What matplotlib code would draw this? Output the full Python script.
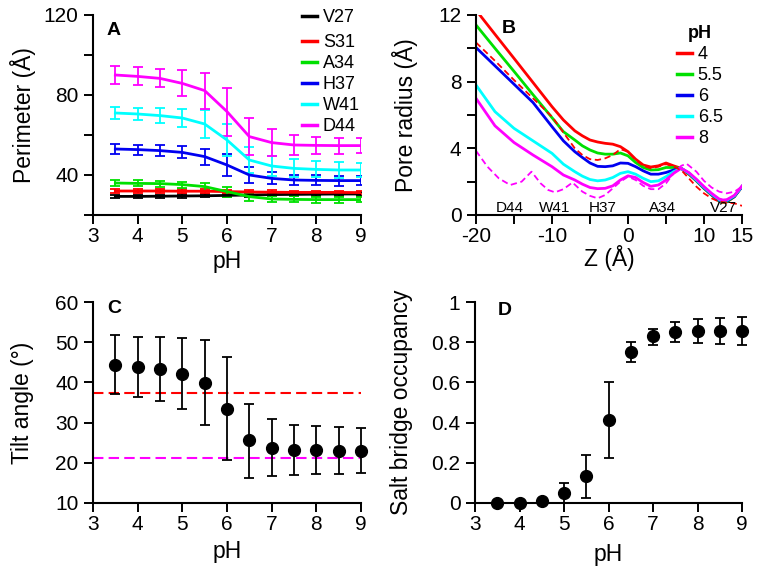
import matplotlib
matplotlib.use('Agg')
import matplotlib.pyplot as plt
from matplotlib.lines import Line2D

plt.rcParams['font.family'] = ['Liberation Sans', 'DejaVu Sans']

# ---------------- Panel A data ----------------
ph = [3.5, 4, 4.5, 5, 5.5, 6, 6.5, 7, 7.5, 8, 8.5, 9]
perim_V27 = [29.3, 29.3, 29.4, 29.5, 29.6, 29.8, 30.0, 30.2, 30.3, 30.4, 30.5, 30.5]
perim_V27_err = [0.8, 0.8, 0.8, 0.8, 0.8, 0.8, 0.8, 0.8, 0.8, 0.8, 0.8, 0.8]
perim_S31 = [32.0, 32.0, 32.0, 31.9, 31.9, 31.7, 31.5, 31.4, 31.3, 31.3, 31.3, 31.2]
perim_S31_err = [0.9, 0.9, 0.9, 0.9, 0.9, 0.9, 0.9, 0.9, 0.9, 0.9, 0.9, 0.9]
perim_A34 = [36.0, 35.8, 35.7, 35.2, 34.2, 31.7, 29.2, 28.0, 27.8, 27.7, 27.7, 27.7]
perim_A34_err = [1.5, 1.5, 1.5, 1.5, 2.0, 2.5, 2.0, 1.7, 1.5, 1.5, 1.5, 1.3]
perim_H37 = [53.0, 52.7, 52.2, 51.3, 49.2, 45.0, 40.0, 38.3, 37.5, 37.3, 37.2, 37.2]
perim_H37_err = [2.5, 2.5, 2.7, 3.0, 4.0, 5.5, 4.0, 3.0, 2.7, 2.5, 2.5, 2.3]
perim_W41 = [71.0, 70.5, 69.7, 68.5, 65.5, 57.5, 47.5, 44.5, 43.3, 42.8, 42.5, 42.5]
perim_W41_err = [3.2, 3.0, 3.8, 4.5, 7.0, 8.0, 6.5, 5.0, 4.5, 4.0, 4.0, 3.5]
perim_D44 = [90.0, 89.3, 88.3, 85.8, 82.2, 71.7, 59.2, 56.2, 55.0, 54.8, 54.7, 54.7]
perim_D44_err = [4.5, 4.5, 4.5, 6.5, 9.0, 12.0, 9.3, 6.7, 5.0, 4.3, 4.0, 3.6]
residues = ['V27', 'S31', 'A34', 'H37', 'W41', 'D44']

# ---------------- Panel B data ----------------
z_red = [-19.5, -17.5, -15, -12.5, -10, -8.5, -7, -6, -5, -4, -3, -2, -1, 0, 1, 2, 3, 4, 5, 6, 7, 8, 9, 10, 11, 12, 12.5, 13, 14, 15]
r_ph4 = [12.0, 10.84, 9.4, 7.95, 6.5, 5.7, 5.05, 4.75, 4.5, 4.38, 4.3, 4.25, 4.1, 3.8, 3.35, 3.0, 2.88, 2.95, 3.12, 2.95, 2.8, 2.45, 2.05, 1.6, 1.2, 0.82, 0.75, 0.78, 1.1, 1.7]
z_sol = [-20, -17.5, -15, -12.5, -10, -8.5, -7, -6, -5, -4, -3, -2, -1, 0, 1, 2, 3, 4, 5, 6, 7, 8, 9, 10, 11, 12, 12.5, 13, 14, 15]
r_ph55 = [11.4, 10.0, 8.62, 7.22, 5.84, 5.0, 4.5, 4.15, 3.9, 3.72, 3.65, 3.65, 3.72, 3.55, 3.15, 2.85, 2.7, 2.72, 2.85, 2.85, 2.8, 2.47, 2.05, 1.6, 1.2, 0.84, 0.78, 0.8, 1.1, 1.7]
r_ph6 = [10.05, 8.95, 7.85, 6.75, 5.3, 4.45, 3.8, 3.45, 3.12, 2.92, 2.9, 2.95, 3.12, 3.1, 2.9, 2.65, 2.45, 2.45, 2.55, 2.7, 2.8, 2.5, 2.08, 1.63, 1.23, 0.88, 0.82, 0.84, 1.12, 1.7]
r_ph65 = [7.8, 6.2, 5.2, 4.45, 3.7, 3.05, 2.6, 2.33, 2.13, 2.05, 2.1, 2.25, 2.5, 2.6, 2.45, 2.2, 2.0, 2.05, 2.3, 2.6, 2.8, 2.52, 2.1, 1.66, 1.26, 0.92, 0.86, 0.88, 1.15, 1.72]
r_ph8 = [7.0, 5.35, 4.35, 3.6, 2.9, 2.4, 2.1, 1.85, 1.65, 1.58, 1.6, 1.75, 2.1, 2.35, 2.25, 1.95, 1.72, 1.8, 2.1, 2.5, 2.8, 2.55, 2.15, 1.7, 1.3, 0.96, 0.9, 0.92, 1.18, 1.74]
z_dred = [-20, -17.5, -15, -12.5, -10, -8.5, -7, -6, -5, -4, -3, -2, -1, 0, 1, 2, 3, 4, 5, 6, 7, 8, 9, 10, 11, 12, 13, 14, 15]
r_dred = [10.35, 9.25, 8.1, 7.0, 5.9, 4.95, 4.0, 3.6, 3.35, 3.3, 3.4, 3.6, 3.95, 3.8, 3.3, 2.95, 2.8, 2.9, 3.05, 2.9, 2.7, 2.2, 1.7, 1.3, 1.0, 0.8, 0.75, 0.7, 0.55]
z_dmag = [-20, -18.5, -17, -15.5, -14, -12.7, -11.5, -10.5, -9.6, -8.5, -7.3, -6, -5, -4, -3, -2, -1, 0, 1, 2, 3, 4, 5, 6, 7, 7.7, 9, 10, 11, 12, 13, 14, 15]
r_dmag = [3.85, 2.9, 2.2, 1.8, 2.0, 2.6, 1.9, 1.5, 1.36, 1.55, 1.95, 1.4, 1.15, 1.0, 1.2, 1.6, 2.0, 2.3, 2.1, 1.75, 1.55, 1.55, 1.9, 2.5, 2.95, 3.08, 2.6, 2.05, 1.65, 1.4, 1.3, 1.4, 1.7]
pore_labels = ['D44', 'W41', 'H37', 'A34', 'V27']
pore_label_z = [-15.5, -9.6, -3.3, 4.6, 12.6]
ph_profiles = ['4', '5.5', '6', '6.5', '8']

# ---------------- Panel C data ----------------
tilt = [44.4, 43.8, 43.3, 42.1, 39.8, 33.4, 25.6, 23.8, 23.1, 23.1, 22.9, 22.9]
tilt_hi = [51.7, 51.3, 51.3, 51.1, 50.5, 46.2, 34.7, 31.0, 29.5, 29.1, 28.9, 28.7]
tilt_lo = [37.0, 36.4, 35.4, 33.4, 29.3, 20.6, 16.3, 16.8, 17.0, 17.1, 17.2, 17.5]
tilt_ref_red = 37.4
tilt_ref_magenta = 21.2

# ---------------- Panel D data ----------------
occ = [0.0, 0.0, 0.012, 0.05, 0.133, 0.413, 0.749, 0.829, 0.85, 0.854, 0.854, 0.854]
occ_hi = [0.0, 0.0, 0.012, 0.10, 0.24, 0.604, 0.80, 0.867, 0.902, 0.915, 0.92, 0.923]
occ_lo = [0.0, 0.0, 0.012, 0.0, 0.027, 0.226, 0.70, 0.785, 0.80, 0.795, 0.79, 0.785]

RED = '#ff0000'
GREEN = '#00e000'
BLUE = '#0000f0'
CYAN = '#00ffff'
MAG = '#ff00ff'
colorsA = ['black', RED, GREEN, BLUE, CYAN, MAG]

W, H = 761, 572
fig = plt.figure(figsize=(W / 100, H / 100), dpi=100)

def axes_px(x0, x1, ytop, ybot):
    return fig.add_axes([x0 / W, 1 - ybot / H, (x1 - x0) / W, (ybot - ytop) / H])

TICK_FS = 15
LAB_FS = 16.5
LEG_FS = 13

def style(ax):
    for s in ['top', 'right']:
        ax.spines[s].set_visible(False)
    for s in ['left', 'bottom']:
        ax.spines[s].set_linewidth(1.5)
    ax.tick_params(direction='out', length=6.5, width=1.4, labelsize=TICK_FS)
    ax.tick_params(axis='x', pad=2.5)
    ax.tick_params(axis='y', pad=4)

def place_labels(ax, x0, x1, ytop, ybot, ylab_right, xlab_top):
    ax.yaxis.set_label_coords((ylab_right - x0) / (x1 - x0), 0.5)
    ax.xaxis.set_label_coords(0.5, (ybot - xlab_top) / (ybot - ytop))

def letter(s, x, y):
    fig.text(x / W, 1 - y / H, s, fontsize=14, fontweight='bold', ha='left', va='baseline')

# ---- A ----
axA = axes_px(93, 361, 15, 215)
style(axA)
seriesA = [(perim_V27, perim_V27_err), (perim_S31, perim_S31_err), (perim_A34, perim_A34_err),
           (perim_H37, perim_H37_err), (perim_W41, perim_W41_err), (perim_D44, perim_D44_err)]
for (vals, errs), col in zip(seriesA, colorsA):
    axA.errorbar(ph, vals, yerr=errs, color=col, lw=2, elinewidth=1.3, capsize=3.5, capthick=1.3)
axA.set_xlim(3, 9)
axA.set_ylim(20, 120)
axA.set_xticks([3, 4, 5, 6, 7, 8, 9])
axA.set_yticks([20, 40, 60, 80, 100, 120])
axA.set_yticklabels(['', '40', '', '80', '', '120'])
axA.set_xlabel('pH', fontsize=LAB_FS)
axA.set_ylabel('Perimeter (Å)', fontsize=LAB_FS)
place_labels(axA, 93, 361, 15, 215, 36, 250)
handlesA = [Line2D([], [], color=c, lw=2.5) for c in colorsA]
legkw = dict(frameon=False, fontsize=LEG_FS, handlelength=0.85, handletextpad=0.3,
             labelspacing=0.22, borderpad=0, borderaxespad=0, bbox_transform=fig.transFigure, loc='upper left')
leg1 = axA.legend(handlesA[:1], residues[:1], bbox_to_anchor=(302 / W, 1 - 9 / H), **legkw)
axA.add_artist(leg1)
axA.legend(handlesA[1:], residues[1:], bbox_to_anchor=(302 / W, 1 - 34 / H), **legkw)
letter('A', 107, 35)

# ---- B ----
axB = axes_px(476, 742, 15, 215)
style(axB)
axB.plot(z_red, r_ph4, color=RED, lw=2)
axB.plot(z_sol, r_ph55, color=GREEN, lw=2)
axB.plot(z_sol, r_ph6, color=BLUE, lw=2)
axB.plot(z_sol, r_ph65, color=CYAN, lw=2)
axB.plot(z_sol, r_ph8, color=MAG, lw=2)
axB.plot(z_dred, r_dred, color=RED, lw=1.3, ls=(0, (3.5, 2)))
axB.plot(z_dmag, r_dmag, color=MAG, lw=1.3, ls=(0, (3.5, 2)))
for lab, zz in zip(pore_labels, pore_label_z):
    axB.text(zz, 0.42, lab, fontsize=11, ha='center', va='center')
axB.set_xlim(-20, 15)
axB.set_ylim(0, 12)
axB.set_xticks([-20, -15, -10, -5, 0, 5, 10, 15])
axB.set_xticklabels(['-20', '', '-10', '', '0', '', '10', '15'])
axB.set_yticks([0, 2, 4, 6, 8, 10, 12])
axB.set_yticklabels(['0', '', '4', '', '8', '', '12'])
axB.set_xlabel('Z (Å)', fontsize=LAB_FS)
axB.set_ylabel('Pore radius (Å)', fontsize=LAB_FS)
place_labels(axB, 476, 742, 15, 215, 418, 245)
handlesB = [Line2D([], [], color=c, lw=2.5) for c in [RED, GREEN, BLUE, CYAN, MAG]]
legB = axB.legend(handlesB, ph_profiles, loc='upper left', bbox_to_anchor=(677 / W, 1 - 25 / H),
                  bbox_transform=fig.transFigure, frameon=False, fontsize=LEG_FS, handlelength=0.85,
                  handletextpad=0.3, labelspacing=0.22, borderpad=0, borderaxespad=0,
                  title='pH', title_fontproperties={'weight': 'bold', 'size': LEG_FS})
letter('B', 502, 33)

# ---- C ----
axC = axes_px(93, 361, 302, 503)
style(axC)
errC = [[t - l for t, l in zip(tilt, tilt_lo)], [h - t for t, h in zip(tilt, tilt_hi)]]
axC.axhline(tilt_ref_red, color=RED, lw=1.5, ls=(0, (5, 2.5)))
axC.axhline(tilt_ref_magenta, color=MAG, lw=1.5, ls=(0, (5, 2.5)))
axC.errorbar(ph, tilt, yerr=errC, fmt='o', color='black', ms=8.5, elinewidth=1.3, capsize=3.5, capthick=1.3, clip_on=False)
axC.set_xlim(3, 9)
axC.set_ylim(10, 60)
axC.set_xticks([3, 4, 5, 6, 7, 8, 9])
axC.set_yticks([10, 20, 30, 40, 50, 60])
axC.set_xlabel('pH', fontsize=LAB_FS)
axC.set_ylabel('Tilt angle (°)', fontsize=LAB_FS)
place_labels(axC, 93, 361, 302, 503, 34, 540)
letter('C', 107, 313)

# ---- D ----
axD = axes_px(475, 742, 302, 503)
style(axD)
errD = [[o - l for o, l in zip(occ, occ_lo)], [h - o for o, h in zip(occ, occ_hi)]]
axD.errorbar(ph, occ, yerr=errD, fmt='o', color='black', ms=8.5, elinewidth=1.3, capsize=3.5, capthick=1.3, clip_on=False)
axD.set_xlim(3, 9)
axD.set_ylim(0, 1)
axD.set_xticks([3, 4, 5, 6, 7, 8, 9])
axD.set_yticks([0, 0.2, 0.4, 0.6, 0.8, 1.0])
axD.set_yticklabels(['0', '0.2', '0.4', '0.6', '0.8', '1'])
axD.set_xlabel('pH', fontsize=LAB_FS)
axD.set_ylabel('Salt bridge occupancy', fontsize=LAB_FS)
place_labels(axD, 475, 742, 302, 503, 413, 543)
letter('D', 498, 315)

fig.savefig('out.png', dpi=100)
